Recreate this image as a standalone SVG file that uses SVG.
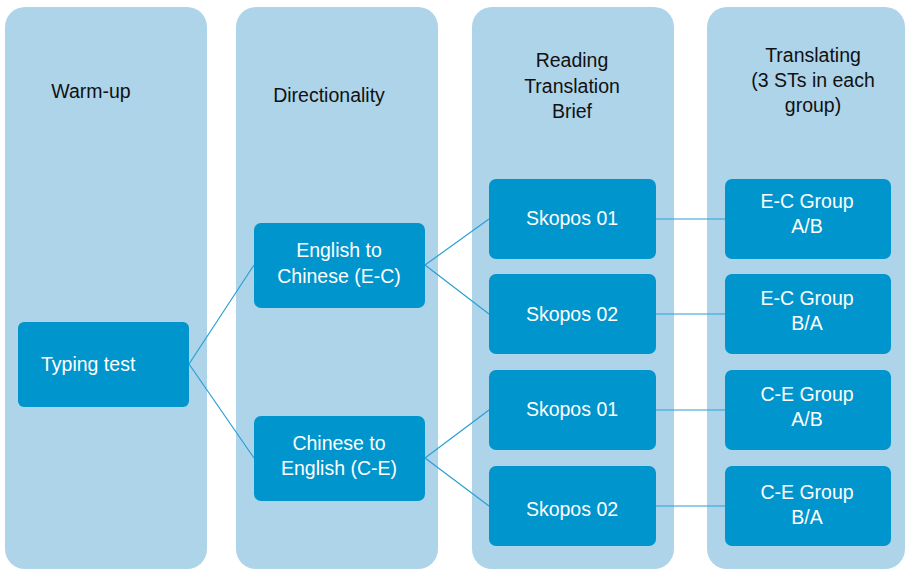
<svg xmlns="http://www.w3.org/2000/svg" width="905" height="570" viewBox="0 0 905 570">
<style>
.col{fill:#aed4ea}
.node{fill:#0095cc}
.h{font-family:"Liberation Sans",Arial,sans-serif;font-size:19.5px;fill:#111;text-anchor:middle}
.t{font-family:"Liberation Sans",Arial,sans-serif;font-size:19.5px;fill:#fff;text-anchor:middle}
.c{stroke:#2a9fd6;stroke-width:1.2;fill:none}
</style>
<rect width="905" height="570" fill="#fff"/>
<g id="columns">
<rect class="col" x="5" y="7" width="202" height="562" rx="20"/>
<rect class="col" x="236" y="7" width="202" height="562" rx="20"/>
<rect class="col" x="472" y="7" width="202" height="562" rx="20"/>
<rect class="col" x="707" y="7" width="198" height="562" rx="20"/>
<text class="h" x="91" y="98">Warm-up</text>
<text class="h" x="329" y="102">Directionality</text>
<text class="h" x="572" y="67">Reading</text>
<text class="h" x="572" y="93">Translation</text>
<text class="h" x="572" y="118">Brief</text>
<text class="h" x="813" y="62">Translating</text>
<text class="h" x="813" y="87">(3 STs in each</text>
<text class="h" x="813" y="112">group)</text>
</g>
<g id="connectors">
<path class="c" d="M189 364L254 265M189 364L254 458"/>
<path class="c" d="M425 265L489 219M425 265L489 314M425 458L489 410M425 458L489 506"/>
<path class="c" d="M656 219H725M656 314H725M656 410H725M656 506H725"/>
</g>
<g id="typing"><rect class="node" x="18" y="322" width="171" height="85" rx="6"/><text class="t" x="41" y="371" style="text-anchor:start">Typing test</text></g>
<g id="ec"><rect class="node" x="254" y="223" width="171" height="85" rx="7"/><text class="t" x="339" y="257">English to</text><text class="t" x="339" y="283">Chinese (E-C)</text></g>
<g id="ce"><rect class="node" x="254" y="416" width="171" height="85" rx="7"/><text class="t" x="339" y="450">Chinese to</text><text class="t" x="339" y="475">English (C-E)</text></g>
<g id="s1a"><rect class="node" x="489" y="179" width="167" height="80" rx="7"/><text class="t" x="572" y="225">Skopos 01</text></g>
<g id="s2a"><rect class="node" x="489" y="274" width="167" height="80" rx="7"/><text class="t" x="572" y="321">Skopos 02</text></g>
<g id="s1b"><rect class="node" x="489" y="370" width="167" height="80" rx="7"/><text class="t" x="572" y="416">Skopos 01</text></g>
<g id="s2b"><rect class="node" x="489" y="466" width="167" height="80" rx="7"/><text class="t" x="572" y="516">Skopos 02</text></g>
<g id="g1"><rect class="node" x="725" y="179" width="166" height="80" rx="7"/><text class="t" x="807" y="208">E-C Group</text><text class="t" x="807" y="233">A/B</text></g>
<g id="g2"><rect class="node" x="725" y="274" width="166" height="80" rx="7"/><text class="t" x="807" y="305">E-C Group</text><text class="t" x="807" y="330">B/A</text></g>
<g id="g3"><rect class="node" x="725" y="370" width="166" height="80" rx="7"/><text class="t" x="807" y="401">C-E Group</text><text class="t" x="807" y="426">A/B</text></g>
<g id="g4"><rect class="node" x="725" y="466" width="166" height="80" rx="7"/><text class="t" x="807" y="499">C-E Group</text><text class="t" x="807" y="524">B/A</text></g>
</svg>
